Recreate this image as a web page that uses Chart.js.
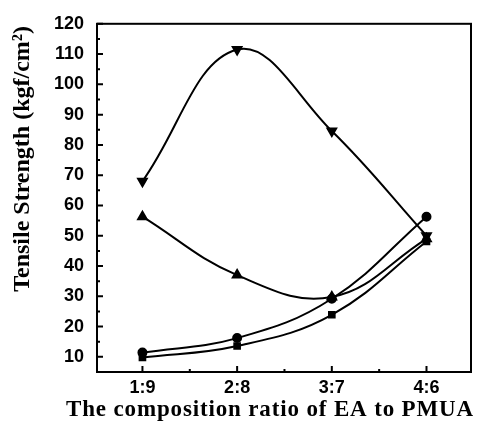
<!DOCTYPE html>
<html>
<head>
<meta charset="utf-8">
<script src="https://cdn.jsdelivr.net/npm/chart.js@4.4.1/dist/chart.umd.min.js"></script>
<style>
  html, body { margin: 0; padding: 0; background: #fff; }
  #wrap { width: 478px; height: 424px; }
</style>
</head>
<body>
<div id="wrap"><canvas id="chart"></canvas></div>
<script>
// categories (x positions 1..4)
const ratios = ["1:9", "2:8", "3:7", "4:6"];
const ratioPos = [1, 2, 3, 4];
// series values
const downTri = [68, 111.5, 84.6, 50];
const upTri = [56.3, 37, 29.8, 49];
const circles = [11.4, 16.2, 29.2, 56.3];
const squares = [9.8, 13.6, 23.9, 48.1];
// y tick labels
const yTicks = [10, 20, 30, 40, 50, 60, 70, 80, 90, 100, 110, 120];
const yMinor = [5, 15, 25, 35, 45, 55, 65, 75, 85, 95, 105, 115];
const xMinor = [1.5, 2.5, 3.5];
const xTitle = "The composition ratio of EA to PMUA";

function pts(vals) {
    return vals.map((v, i) => ({ x: ratioPos[i], y: v }));
}

function series(vals, style, rot, r) {
    return {
        data: pts(vals),
        borderColor: "#000",
        backgroundColor: "#000",
        borderWidth: 2,
        pointStyle: style,
        rotation: rot,
        pointRadius: r,
        tension: 0.4,
        fill: false
    };
}

// inward ticks, frame and the (wide, spaced) x title
const frame = {
    id: "frame",
    afterDatasetsDraw(chart) {
        const { ctx, chartArea: a, scales } = chart;
        const xs = scales.x, ys = scales.y;
        ctx.save();
        ctx.strokeStyle = "#000";
        ctx.lineWidth = 2;
        ctx.strokeRect(a.left, a.top, a.right - a.left, a.bottom - a.top);
        ctx.beginPath();
        yTicks.forEach(v => {
            const p = ys.getPixelForValue(v);
            ctx.moveTo(a.left, p); ctx.lineTo(a.left + 6, p);
        });
        yMinor.forEach(v => {
            const p = ys.getPixelForValue(v);
            ctx.moveTo(a.left, p); ctx.lineTo(a.left + 3, p);
        });
        ratioPos.forEach(v => {
            const p = xs.getPixelForValue(v);
            ctx.moveTo(p, a.bottom); ctx.lineTo(p, a.bottom - 6);
        });
        xMinor.forEach(v => {
            const p = xs.getPixelForValue(v);
            ctx.moveTo(p, a.bottom); ctx.lineTo(p, a.bottom - 3);
        });
        ctx.stroke();

        ctx.fillStyle = "#000";
        ctx.font = "bold 23px 'Liberation Serif'";
        ctx.letterSpacing = "0.85px";
        ctx.textAlign = "center";
        ctx.textBaseline = "middle";
        ctx.fillText(xTitle, 270, 410);
        ctx.restore();
    }
};

new Chart(document.getElementById("chart"), {
    type: "line",
    data: {
        datasets: [
            series(downTri, "triangle", 180, 5),
            series(upTri, "triangle", 0, 5),
            series(circles, "circle", 0, 4),
            series(squares, "rect", 0, 4)
        ]
    },
    options: {
        responsive: true,
        maintainAspectRatio: false,
        animation: false,
        layout: { padding: { top: 17, right: 0, left: 0, bottom: 0 } },
        plugins: { legend: { display: false }, tooltip: { enabled: false } },
        scales: {
            x: {
                type: "linear",
                min: 0.52,
                max: 4.47,
                afterBuildTicks: s => { s.ticks = ratioPos.map(v => ({ value: v })); },
                afterFit: s => { s.height = 52; },
                ticks: {
                    color: "#000",
                    padding: 5,
                    font: { family: "Liberation Sans", size: 18, weight: "bold" },
                    callback: (v) => ratios[ratioPos.indexOf(v)] || ""
                },
                grid: { display: false, drawTicks: false },
                border: { display: false }
            },
            y: {
                min: 5,
                max: 120,
                afterBuildTicks: s => { s.ticks = yTicks.map(v => ({ value: v })); },
                afterFit: s => { s.width = 97; },
                ticks: {
                    color: "#000",
                    padding: 13,
                    font: { family: "Liberation Sans", size: 18, weight: "bold" }
                },
                grid: { display: false, drawTicks: false },
                border: { display: false },
                title: {
                    display: true,
                    text: "             Tensile Strength (kgf/cm²)",
                    color: "#000",
                    padding: { top: 8, bottom: 0 },
                    font: { family: "Liberation Serif", size: 24, weight: "bold" }
                }
            }
        }
    },
    plugins: [frame]
});
</script>
</body>
</html>
